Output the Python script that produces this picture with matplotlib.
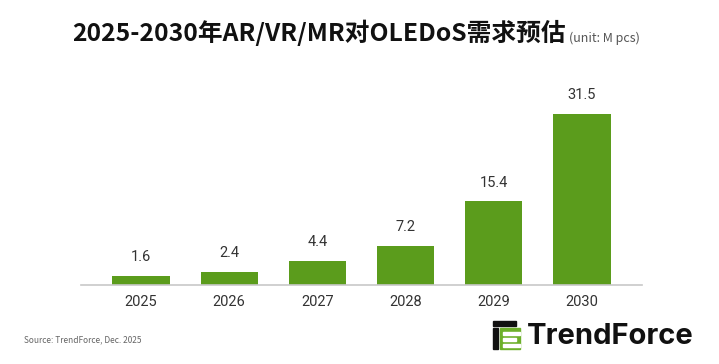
import matplotlib
matplotlib.use("Agg")
import matplotlib.pyplot as plt
from matplotlib.patches import Rectangle, Polygon

years = ["2025", "2026", "2027", "2028", "2029", "2030"]
demand = [1.6, 2.4, 4.4, 7.2, 15.4, 31.5]

title = "2025-2030年AR/VR/MR对OLEDoS需求预估"
unit = "(unit: M pcs)"
source = "Source: TrendForce, Dec. 2025"

plt.rcParams["font.family"] = ["Noto Sans CJK SC", "DejaVu Sans"]

bar_green = "#5b9c1c"

fig = plt.figure(figsize=(7.19, 3.64), dpi=100)
ax = fig.add_axes([81 / 719, 1 - 285 / 364, (642 - 81) / 719, 217 / 364])

x = range(len(years))
bars = ax.bar(x, demand, width=0.65, color=bar_green)
for b, v in zip(bars, demand):
    ax.text(b.get_x() + b.get_width() / 2, v + 2.2, f"{v:.1f}",
            ha="center", va="bottom", fontsize=10.5, color="#333333",
            family=["Roboto", "DejaVu Sans"])

ax.set_xlim(-0.68, 5.68)
ax.set_ylim(0, 40)
ax.set_xticks(list(x))
ax.set_xticklabels(years, fontsize=10.5, color="#333333", family=["Roboto", "DejaVu Sans"])
ax.tick_params(axis="x", length=0, pad=7)
ax.set_yticks([])
for s in ["top", "right", "left"]:
    ax.spines[s].set_visible(False)
ax.spines["bottom"].set_color("#c8c8c8")
ax.spines["bottom"].set_linewidth(1.2)

fig.text(566 / 719, 1 - 33 / 364, title, ha="right", va="center",
         fontsize=17.8, fontweight="bold", color="#111111")
fig.text(569 / 719, 1 - 38 / 364, unit, ha="left", va="center",
         fontsize=9, color="#555555")

fig.text(24 / 719, 1 - 340 / 364, source, ha="left", va="center",
         fontsize=6, color="#666666")

# TrendForce logo
def px(x0, y0, w, h, c):
    fig.patches.append(Rectangle((x0 / 719, 1 - (y0 + h) / 364), w / 719, h / 364,
                                 transform=fig.transFigure, color=c, zorder=3))

px(493, 321, 23, 5, "#111111")
px(493, 328, 5, 21, "#111111")
px(500, 328, 20, 21, "#6db02a")
px(503, 332, 17, 2.5, "white")
px(503, 338, 13, 2.5, "white")
px(503, 344, 17, 2.5, "white")
fig.text(527 / 719, 1 - 336 / 364, "TrendForce", ha="left", va="center",
         fontsize=21, fontweight="bold", color="#111111", family=["Inter", "DejaVu Sans"])

fig.savefig("out.png", dpi=100, facecolor="white")
